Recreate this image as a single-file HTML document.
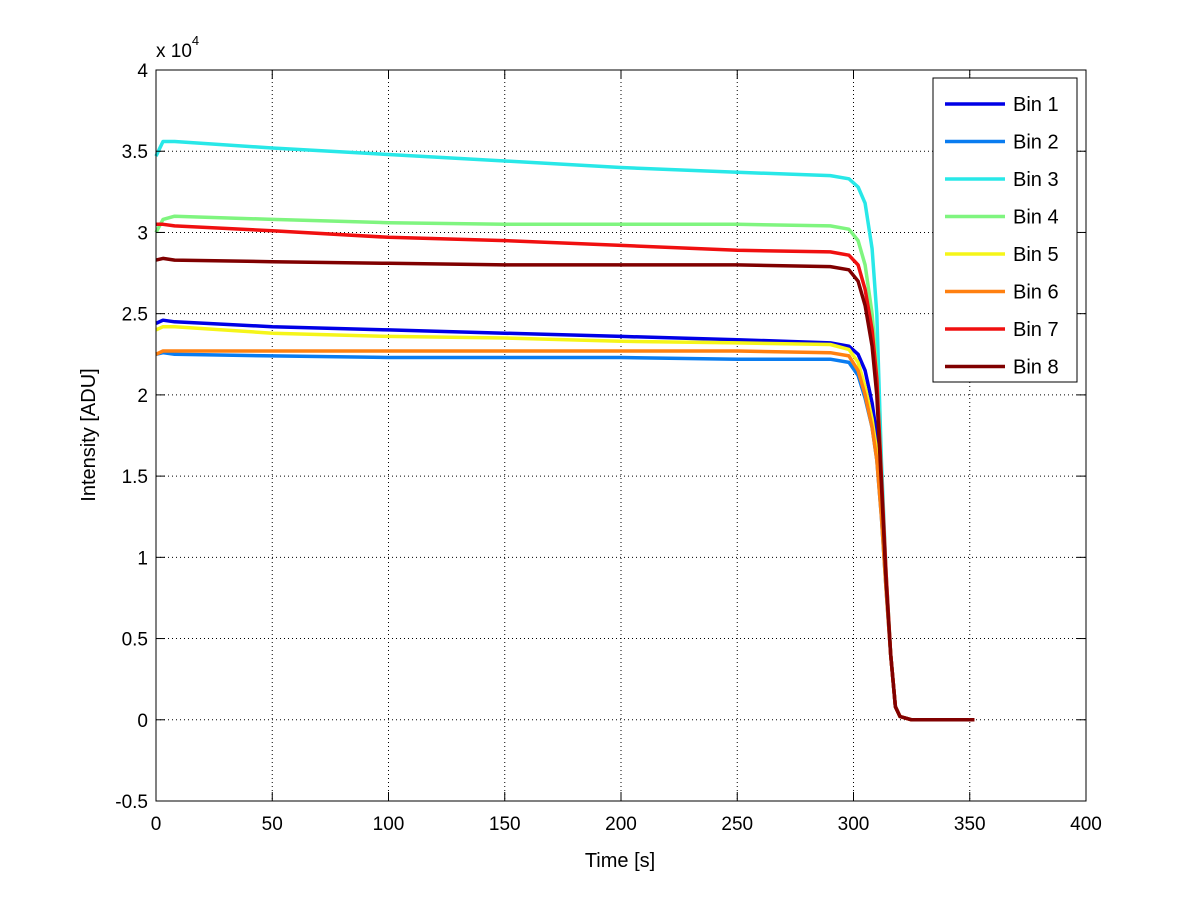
<!DOCTYPE html>
<html><head><meta charset="utf-8"><style>
body{margin:0;background:#fff;}
svg{display:block;font-family:"Liberation Sans",sans-serif;}
</style></head><body>
<svg id="chart" width="1200" height="901" viewBox="0 0 1200 901" xmlns="http://www.w3.org/2000/svg">
<rect x="0" y="0" width="1200" height="901" fill="#fff"/>
<g id="grid"></g>
<g id="series"></g>
<g id="axes"></g>
<g id="legend"></g>
</svg>
<script>
const times = [0,3,8,50,100,150,200,250,290,298,302,305,308,310,312,314,316,318,320,325,352];
const bin1 = [2.44,2.46,2.45,2.42,2.40,2.38,2.36,2.34,2.32,2.30,2.25,2.15,1.95,1.75,1.35,0.85,0.4,0.08,0.02,0,0];
const bin2 = [2.25,2.26,2.25,2.24,2.23,2.23,2.23,2.22,2.22,2.20,2.12,1.98,1.80,1.60,1.25,0.80,0.4,0.08,0.02,0,0];
const bin3 = [3.47,3.56,3.56,3.52,3.48,3.44,3.40,3.37,3.35,3.33,3.28,3.18,2.90,2.50,1.60,0.90,0.4,0.08,0.02,0,0];
const bin4 = [3.00,3.08,3.10,3.08,3.06,3.05,3.05,3.05,3.04,3.02,2.95,2.80,2.50,2.15,1.50,0.90,0.4,0.08,0.02,0,0];
const bin5 = [2.40,2.42,2.42,2.38,2.36,2.35,2.33,2.32,2.31,2.28,2.20,2.05,1.85,1.65,1.30,0.85,0.4,0.08,0.02,0,0];
const bin6 = [2.25,2.27,2.27,2.27,2.27,2.27,2.27,2.27,2.26,2.24,2.15,2.00,1.80,1.60,1.25,0.80,0.4,0.08,0.02,0,0];
const bin7 = [3.05,3.05,3.04,3.01,2.97,2.95,2.92,2.89,2.88,2.86,2.80,2.65,2.40,2.10,1.50,0.90,0.4,0.08,0.02,0,0];
const bin8 = [2.83,2.84,2.83,2.82,2.81,2.80,2.80,2.80,2.79,2.77,2.70,2.55,2.30,2.00,1.45,0.85,0.4,0.08,0.02,0,0];
const seriesNames = ["Bin 1","Bin 2","Bin 3","Bin 4","Bin 5","Bin 6","Bin 7","Bin 8"];
const xTicks = [0,50,100,150,200,250,300,350,400];
const yTicks = [-0.5,0,0.5,1,1.5,2,2.5,3,3.5,4];
const yTickLabels = ["-0.5","0","0.5","1","1.5","2","2.5","3","3.5","4"];

const NS="http://www.w3.org/2000/svg";
const L=156,R=1086,T=70,B=801;
const xS=v=>L+(v-0)/(400-0)*(R-L);
const yS=v=>B-(v-(-0.5))/(4-(-0.5))*(B-T);
function mk(tag,attrs,parent){const e=document.createElementNS(NS,tag);for(const k in attrs)e.setAttribute(k,attrs[k]);parent.appendChild(e);return e;}
const grid=document.getElementById('grid'),axes=document.getElementById('axes'),sg=document.getElementById('series'),lg=document.getElementById('legend');

xTicks.forEach((t,i)=>{
  const x=xS(t);
  if(i>0&&i<xTicks.length-1){const g=mk('line',{x1:x,y1:T,x2:x,y2:B,stroke:'#000','stroke-width':1,'stroke-dasharray':'1,3'},grid);
  
  }
  mk('line',{x1:x,y1:B,x2:x,y2:B-9,stroke:'#000'},axes);
  mk('line',{x1:x,y1:T,x2:x,y2:T+9,stroke:'#000'},axes);
  const tx=mk('text',{x:x,y:B+29,'font-size':19,'text-anchor':'middle'},axes);
  tx.textContent=t;
  
  
});
yTicks.forEach((t,i)=>{
  const y=yS(t);
  if(i>0&&i<yTicks.length-1){const g=mk('line',{x1:L,y1:y,x2:R,y2:y,stroke:'#000','stroke-width':1,'stroke-dasharray':'1,3'},grid);
  
  }
  mk('line',{x1:L,y1:y,x2:L+9,y2:y,stroke:'#000'},axes);
  mk('line',{x1:R,y1:y,x2:R-9,y2:y,stroke:'#000'},axes);
  const tx=mk('text',{x:L-8,y:y+7,'font-size':19,'text-anchor':'end'},axes);
  tx.textContent=yTickLabels[i];
  
  
});
const box=mk('rect',{x:L,y:T,width:R-L,height:B-T,fill:'none',stroke:'#000','stroke-width':1},axes);


const ex=mk('text',{x:156,y:57,'font-size':19},axes);
ex.innerHTML='x 10<tspan dy="-12" font-size="13">4</tspan>';


const xl=mk('text',{x:620,y:867,'font-size':20,'text-anchor':'middle'},axes);
xl.textContent='Time [s]';


const yl=mk('text',{x:0,y:0,'font-size':20,'text-anchor':'middle',transform:'translate(95,435) rotate(-90)'},axes);
yl.textContent='Intensity [ADU]';



const all=[bin1,bin2,bin3,bin4,bin5,bin6,bin7,bin8];
const colors=['#0000e6','#0a7cf0','#28e8e8','#7ff57f','#f5f519','#ff8010','#f01010','#800000'];
all.forEach((arr,s)=>{
  const d=arr.map((v,i)=>(i?'L':'M')+xS(times[i]).toFixed(1)+','+yS(v).toFixed(1)).join(' ');
  const p=mk('path',{d:d,fill:'none',stroke:colors[s],'stroke-width':3.5,'stroke-linejoin':'round'},sg);
  
  
});

const lb=mk('rect',{x:933,y:78,width:144,height:304,fill:'#fff',stroke:'#000','stroke-width':1},lg);


seriesNames.forEach((n,i)=>{
  const y=104+i*37.5;
  const ln=mk('line',{x1:945,y1:y,x2:1005,y2:y,stroke:colors[i],'stroke-width':3.5},lg);
  
  
  const t=mk('text',{x:1013,y:y+7,'font-size':20},lg);
  t.textContent=n;
  
  
});
</script>
</body></html>
